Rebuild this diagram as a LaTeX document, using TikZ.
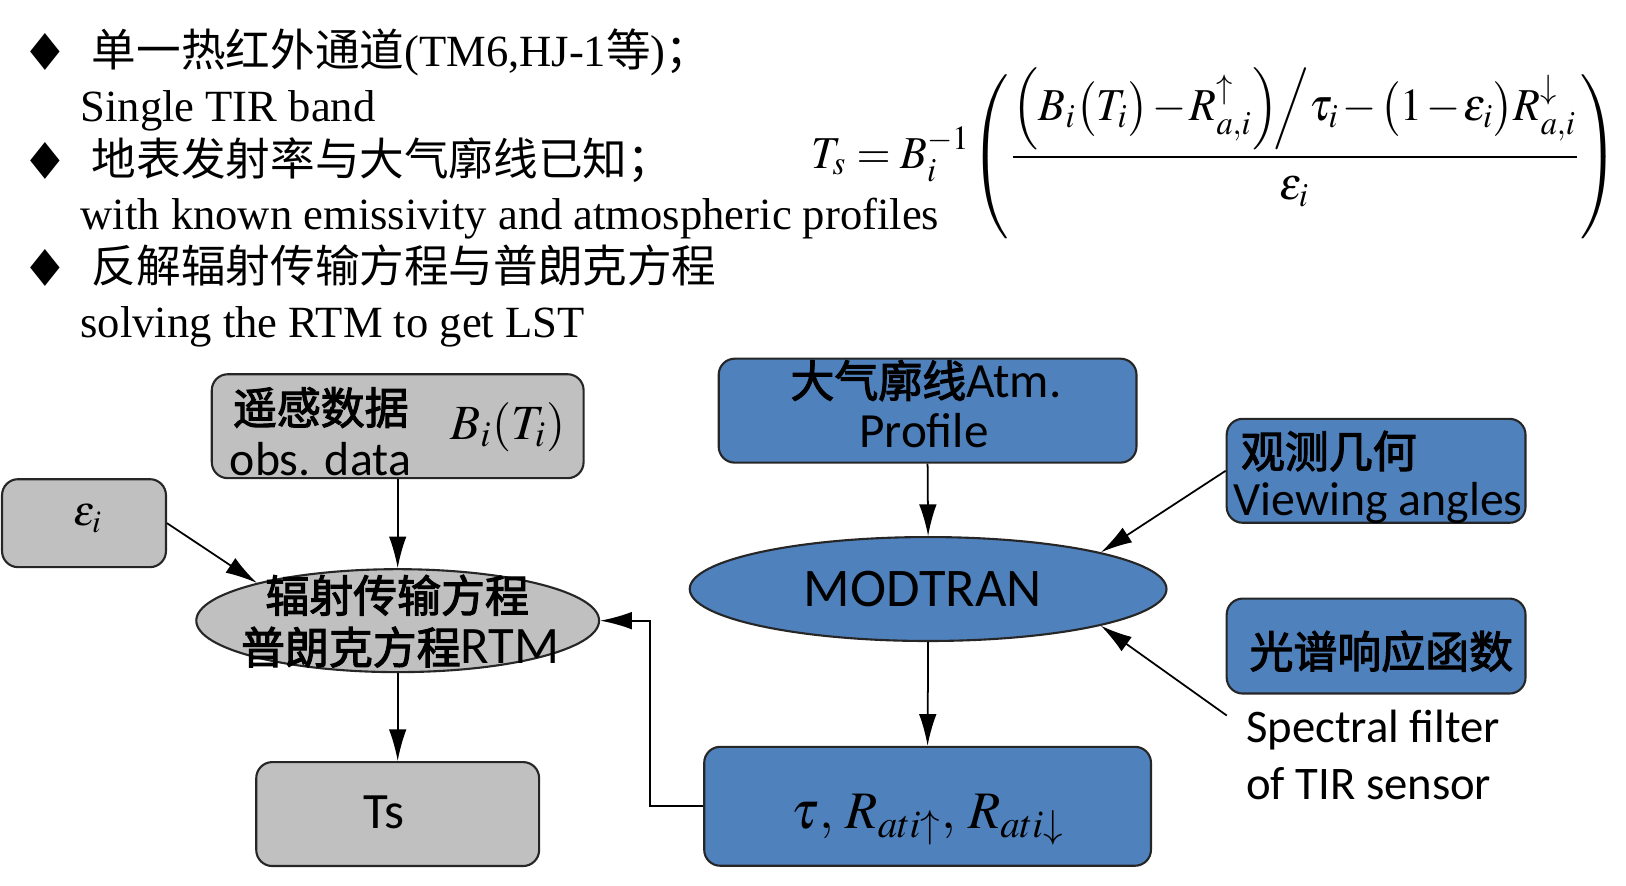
\documentclass[tikz,border=0pt]{standalone}
\usepackage{amsmath}
\usepackage{mathptmx}
\usepackage{fontspec}
\setmainfont{Liberation Serif}
\newfontfamily\cjk{Noto Sans CJK SC}
\newfontfamily\cjkb[FakeBold=2.5]{Noto Sans CJK SC}
\newfontfamily\boxfont{Carlito}
\newfontfamily\symfont{DejaVu Sans}
\usetikzlibrary{positioning}
\usetikzlibrary{shapes.geometric}
\usetikzlibrary{arrows.meta}
\usepackage{xcolor}

\definecolor{boxblue}{RGB}{79,129,189}
\definecolor{boxgray}{RGB}{192,192,192}

\tikzset{
  graybox/.style={draw=black!85, fill=boxgray, rounded corners=1.6mm, line width=0.6pt, inner sep=0pt},
  bluebox/.style={draw=black!85, fill=boxblue, rounded corners=1.6mm, line width=0.6pt, inner sep=0pt},
  grayoval/.style={ellipse, draw=black!85, fill=boxgray, line width=0.6pt, inner sep=0pt},
  blueoval/.style={ellipse, draw=black!85, fill=boxblue, line width=0.6pt, inner sep=0pt},
  flow/.style={-{Latex[length=9pt,width=5pt]}, line width=0.5pt},
  hdr/.style={anchor=base west, inner sep=0pt, font=\fontsize{12.7}{14}\selectfont},
  bul/.style={inner sep=0pt, font=\symfont\fontsize{11}{12}\selectfont},
  lbl/.style={inner sep=0pt, font=\boxfont\fontsize{13.6}{16}\selectfont},
  hanzi/.style={inner sep=0pt, font=\cjkb\fontsize{12.5}{14}\selectfont}
}

\begin{document}
\begin{tikzpicture}[x=0.01037cm, y=-0.01037cm]

\useasboundingbox (0,0) rectangle (1568,854);

%%%%%%%%%%%%    bullet list and formula   %%%%%%%%%%%%
\node[bul] (b1) at (44,50) {\scalebox{1}[1.25]{◆}};
\node[bul] (b2) at (44,155) {\scalebox{1}[1.25]{◆}};
\node[bul] (b3) at (44,258) {\scalebox{1}[1.25]{◆}};

\node[hdr] (h1) at (88,64) {{\cjk 单一热红外通道}(TM6,HJ-1{\cjk 等}){\cjk ；}};
\node[hdr] (e1) at (77,117) {Single TIR band};
\node[hdr] (h2) at (88,169) {{\cjk 地表发射率与大气廓线已知；}};
\node[hdr] (e2) at (77,221) {with known emissivity and atmospheric profiles};
\node[hdr] (h3) at (88,272) {{\cjk 反解辐射传输方程与普朗克方程}};
\node[hdr] (e3) at (77,325) {solving the RTM to get LST};

\node (eq) at (1562,148) [anchor=east, inner sep=0pt, font=\fontsize{13}{15}\selectfont] {\scalebox{0.96}[1]{$\medmuskip=1.5mu\thickmuskip=4mu T_s = B_i^{-1}\!\left(\rule[-20pt]{0pt}{46pt}\dfrac{\Bigl(B_i\bigl(T_i\bigr)-R^{\uparrow}_{a,i}\Bigr)\!\Big/\tau_i-\bigl(1-\varepsilon_i\bigr)R^{\downarrow}_{a,i}}{\varepsilon_i}\right)$}};

%%%%%%%%%%%%    left branch (gray)   %%%%%%%%%%%%
\node[graybox, minimum width=3.72cm, minimum height=1.04cm] (obs) at (383.5,411) {};
\node[hanzi, anchor=west] (obscn) at (224,393) {遥感数据};
\node[lbl, anchor=west] (obsen) at (221,443) {obs. data};
\node[inner sep=0pt, font=\fontsize{14}{16}\selectfont] (bt) at (490,412) {$B_i(T_i)$};

\node[graybox, minimum width=1.64cm, minimum height=0.88cm] (eps) at (81,504.5) {};
\node[inner sep=0pt, font=\fontsize{12}{14}\selectfont] (epst) at (85,500) {$\varepsilon_i$};

\node[grayoval, minimum width=4.03cm, minimum height=1.03cm] (rtm) at (383.5,598.5) {};
\node[hanzi] (rtm1) at (383,574) {辐射传输方程};
\node[hanzi] (rtm2) at (386,624) {普朗克方程{\boxfont\fontsize{15}{16}\selectfont RTM}};

\node[graybox, minimum width=2.83cm, minimum height=1.04cm] (ts) at (383.5,785) {};
\node[lbl, font=\boxfont\fontsize{14.5}{16}\selectfont] (tst) at (370,783) {Ts};

%%%%%%%%%%%%    right branch (blue)   %%%%%%%%%%%%
\node[bluebox, minimum width=4.18cm, minimum height=1.04cm] (atm) at (894.5,396) {};
\node[hanzi] (atm1) at (893,367) {大气廓线{\boxfont\fontsize{14}{16}\selectfont Atm.}};
\node[lbl, font=\boxfont\fontsize{14}{16}\selectfont] (atm2) at (891,415) {Profile};

\node[blueoval, minimum width=4.77cm, minimum height=1.04cm] (modtran) at (895,568) {};
\node[lbl, font=\boxfont\fontsize{15.5}{17}\selectfont] (modt) at (890,568) {MODTRAN};

\node[bluebox, minimum width=2.99cm, minimum height=1.04cm] (view) at (1327,454) {};
\node[hanzi, anchor=west] (view1) at (1196,435) {观测几何};
\node[lbl, anchor=west] (view2) at (1189,485) {Viewing angles};

\node[bluebox, minimum width=2.99cm, minimum height=0.95cm] (spec) at (1327,623) {};
\node[hanzi] (spec1) at (1332,628) {光谱响应函数};

\node[lbl, anchor=west, font=\boxfont\fontsize{13.3}{16}\selectfont] (filt1) at (1201,704) {Spectral filter};
\node[lbl, anchor=west, font=\boxfont\fontsize{13.3}{16}\selectfont] (filt2) at (1201,756) {of TIR sensor};
\coordinate (filtend) at (1183,690);

\node[bluebox, minimum width=4.47cm, minimum height=1.19cm] (tau) at (894.5,777.5) {};
\node[inner sep=0pt, font=\fontsize{15}{17}\selectfont] (taut) at (895,790) {$\tau,\, R_{ati\uparrow},\, R_{ati\downarrow}$};

%%%%%%%%%%%%    connectors   %%%%%%%%%%%%
\draw[flow] (obs.south) -- (rtm.north);
\draw[flow] (eps.east) -- (rtm.165);
\draw[flow] (rtm.south) -- (ts.north);
\draw[flow] (atm.south) -- (modtran.north);
\draw[flow] (view.west) -- (modtran.12);
\draw[flow] (filtend) -- (modtran.-12);
\draw[flow] (modtran.south) -- (tau.north);
\draw[flow] (tau.west) -- ++(-51,0) |- (rtm.east);

\end{tikzpicture}
\end{document}
